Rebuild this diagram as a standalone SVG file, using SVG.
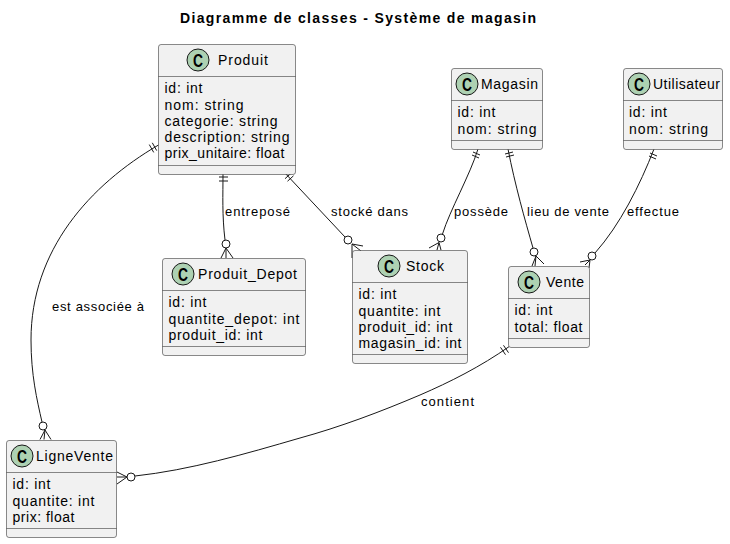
<svg xmlns="http://www.w3.org/2000/svg" width="730" height="544" viewBox="0 0 730 544">
<style>
text{font-family:"Liberation Sans",Arial,sans-serif;fill:#000}
.box{fill:#F1F1F1;stroke:#181818;stroke-width:.5}
.sep{stroke:#181818;stroke-width:.5;fill:none}
.ci{fill:#ADD1B2;stroke:#181818;stroke-width:1}
.c{font-size:18px;font-weight:bold;text-anchor:middle}
.n{font-size:14px}
.f{font-size:14px}
.l{font-size:13px}
.t{font-size:14px;font-weight:bold}
.e{fill:none;stroke:#181818;stroke-width:1}
.o{fill:#fff;stroke:#181818;stroke-width:1}
</style>
<rect width="730" height="544" fill="#fff"/>
<text class="t" x="180" y="23" textLength="356" lengthAdjust="spacing">Diagramme de classes - Système de magasin</text>
<g id="connectors">
<path class="e" d="M158.500,145 C90,185 31,250 31,340 C31,375 37,400 42,422"/>
<path class="e" d="M149.300,144.600 L153.700,152.400 M152.300,142.800 L156.700,150.600"/>
<circle class="o" cx="43" cy="426" r="4"/><path class="e" d="M40,439.500 L45,430 L51,439.500 M45,430 L44,439.500"/>
<path class="e" d="M223,174 C223,195 222,215 225,240"/>
<path class="e" d="M219,177 H228 M219,181 H228"/>
<circle class="o" cx="226" cy="244" r="4"/><path class="e" d="M221,258 L226,248 L233,258 M226,248 V258"/>
<path class="e" d="M284,172 L345,237"/>
<path class="e" d="M285,178.700 L291,173.300 M287.500,181.200 L293.500,175.800"/>
<circle class="o" cx="348" cy="240" r="4"/><path class="e" d="M352,258 L352,244 L363,246 M352,244 L361,251"/>
<path class="e" d="M478,149 C470,175 450,210 442.500,234"/>
<path class="e" d="M473,152 L480,155 M472,155 L479,158"/>
<circle class="o" cx="441" cy="238" r="4"/><path class="e" d="M429,248 L439,242.500 L437,250 M439,242.500 L441,250"/>
<path class="e" d="M508,149 C515,185 525,220 533,248"/>
<path class="e" d="M505,154 L513,152 M506,157 L514,155"/>
<circle class="o" cx="534" cy="252" r="4"/><path class="e" d="M532,266 L536,256 L544,264 M536,256 L535,266"/>
<path class="e" d="M654,149 C640,185 620,225 595,253"/>
<path class="e" d="M650,153 L657,156 M649,156 L656,159"/>
<circle class="o" cx="592" cy="256" r="4"/><path class="e" d="M580,262 L590,260 L589,268 M590,260 L585,265"/>
<path class="e" d="M510,346 C480,367 450,382 420,395 C380,412 340,427 300,438 C245,454 190,470 135,476"/>
<path class="e" d="M503.500,345.300 L508.500,352.700 M500.500,347.300 L505.500,354.700"/>
<circle class="o" cx="131" cy="477" r="4"/><path class="e" d="M117,472 L127,477 L117,484 M127,477 H117"/>
</g>
<g id="labels">
<text class="l" x="52" y="311" textLength="92">est associée à</text>
<text class="l" x="225" y="216" textLength="65">entreposé</text>
<text class="l" x="331" y="216" textLength="77">stocké dans</text>
<text class="l" x="454" y="216" textLength="54">possède</text>
<text class="l" x="527" y="216" textLength="82">lieu de vente</text>
<text class="l" x="627" y="216" textLength="52">effectue</text>
<text class="l" x="421" y="406" textLength="53">contient</text>
</g>
<g id="Produit">
<rect class="box" x="158.500" y="44.500" width="137" height="130" rx="2.500"/>
<path class="sep" d="M158.500,76.500 H295.500 M158.500,165.500 H295.500"/>
<circle class="ci" cx="198" cy="60" r="11"/><text class="c" x="198" y="66.500" textLength="10" lengthAdjust="spacingAndGlyphs">C</text>
<text class="n" x="218" y="65" textLength="50">Produit</text>
<text class="f" x="164.500" y="93" textLength="38">id: int</text>
<text class="f" x="164.500" y="110" textLength="79">nom: string</text>
<text class="f" x="164.500" y="126" textLength="113">categorie: string</text>
<text class="f" x="164.500" y="142" textLength="125">description: string</text>
<text class="f" x="164.500" y="158" textLength="120">prix_unitaire: float</text>
</g>
<g id="Produit_Depot">
<rect class="box" x="162.500" y="258.500" width="143" height="97" rx="2.500"/>
<path class="sep" d="M162.500,290.500 H305.500 M162.500,346.500 H305.500"/>
<circle class="ci" cx="183" cy="274" r="11"/><text class="c" x="183" y="280.500" textLength="10" lengthAdjust="spacingAndGlyphs">C</text>
<text class="n" x="198" y="279" textLength="99">Produit_Depot</text>
<text class="f" x="168.500" y="307" textLength="38">id: int</text>
<text class="f" x="168.500" y="324" textLength="131">quantite_depot: int</text>
<text class="f" x="168.500" y="340" textLength="94">produit_id: int</text>
</g>
<g id="Stock">
<rect class="box" x="352.500" y="250.500" width="115" height="113" rx="2.500"/>
<path class="sep" d="M352.500,282.500 H467.500 M352.500,354.500 H467.500"/>
<circle class="ci" cx="389" cy="266" r="11"/><text class="c" x="389" y="272.500" textLength="10" lengthAdjust="spacingAndGlyphs">C</text>
<text class="n" x="406" y="271" textLength="38">Stock</text>
<text class="f" x="358.500" y="299" textLength="38">id: int</text>
<text class="f" x="358.500" y="316" textLength="82">quantite: int</text>
<text class="f" x="358.500" y="332" textLength="94">produit_id: int</text>
<text class="f" x="358.500" y="348" textLength="103">magasin_id: int</text>
</g>
<g id="Magasin">
<rect class="box" x="451.500" y="68.500" width="91" height="81" rx="2.500"/>
<path class="sep" d="M451.500,100.500 H542.500 M451.500,140.500 H542.500"/>
<circle class="ci" cx="467" cy="84" r="11"/><text class="c" x="467" y="90.500" textLength="10" lengthAdjust="spacingAndGlyphs">C</text>
<text class="n" x="481" y="89" textLength="57">Magasin</text>
<text class="f" x="457.500" y="117" textLength="38">id: int</text>
<text class="f" x="457.500" y="134" textLength="79">nom: string</text>
</g>
<g id="Utilisateur">
<rect class="box" x="623.500" y="68.500" width="99" height="81" rx="2.500"/>
<path class="sep" d="M623.500,100.500 H722.500 M623.500,140.500 H722.500"/>
<circle class="ci" cx="639" cy="84" r="11"/><text class="c" x="639" y="90.500" textLength="10" lengthAdjust="spacingAndGlyphs">C</text>
<text class="n" x="653" y="89" textLength="67">Utilisateur</text>
<text class="f" x="629" y="117" textLength="38">id: int</text>
<text class="f" x="629" y="134" textLength="79">nom: string</text>
</g>
<g id="Vente">
<rect class="box" x="508.500" y="266.500" width="81" height="81" rx="2.500"/>
<path class="sep" d="M508.500,298.500 H589.500 M508.500,338.500 H589.500"/>
<circle class="ci" cx="529" cy="282" r="11"/><text class="c" x="529" y="288.500" textLength="10" lengthAdjust="spacingAndGlyphs">C</text>
<text class="n" x="546" y="287" textLength="38">Vente</text>
<text class="f" x="514.500" y="315" textLength="38">id: int</text>
<text class="f" x="514.500" y="332" textLength="68">total: float</text>
</g>
<g id="LigneVente">
<rect class="box" x="6.500" y="440.500" width="110" height="97" rx="2.500"/>
<path class="sep" d="M6.500,472.500 H116.500 M6.500,528.500 H116.500"/>
<circle class="ci" cx="22" cy="456" r="11"/><text class="c" x="22" y="462.500" textLength="10" lengthAdjust="spacingAndGlyphs">C</text>
<text class="n" x="36" y="461" textLength="77">LigneVente</text>
<text class="f" x="12.500" y="489" textLength="38">id: int</text>
<text class="f" x="12.500" y="506" textLength="82">quantite: int</text>
<text class="f" x="12.500" y="522" textLength="62">prix: float</text>
</g>
</svg>
